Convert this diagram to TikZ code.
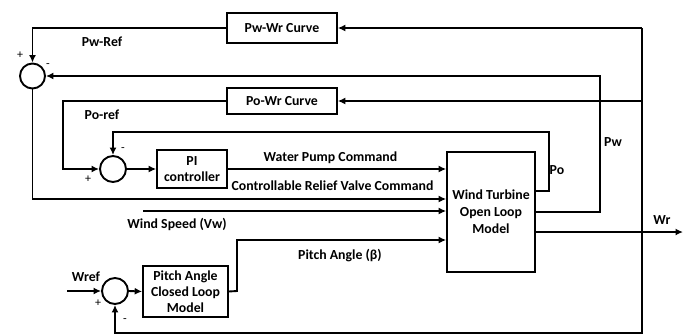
\documentclass[tikz,border=0pt]{standalone}
\usepackage{fontspec}
\setmainfont{Carlito}
\usetikzlibrary{arrows.meta,calc}
\begin{document}
\begin{tikzpicture}[x=1pt,y=-1pt,
  line width=1.9pt,
  font=\bfseries\fontsize{13.8}{16}\selectfont,
  blk/.style={draw,rectangle,inner sep=0pt,align=center,line width=1.7pt},
  sumc/.style={draw,circle,inner sep=0pt,line width=1.9pt},
  arr/.style={-{Latex[length=7.5pt,width=7pt]}},
  lbl/.style={inner sep=0pt,anchor=center},
  sgn/.style={inner sep=0pt,font=\fontsize{12}{12}\selectfont},
  conn/.style={line join=miter}]
\useasboundingbox (0,0) rectangle (691,335);
% blocks
\node[blk,minimum width=110pt,minimum height=30pt] (pwwr) at (282,28) {Pw-Wr Curve};
\node[blk,minimum width=110pt,minimum height=26pt] (powr) at (282,101) {Po-Wr Curve};
\node[blk,minimum width=70pt,minimum height=38pt,font=\bfseries\fontsize{13.8}{15.5}\selectfont] (pi) at (192,169) {PI\\controller};
\node[blk,minimum width=88pt,minimum height=120pt,font=\bfseries\fontsize{13.8}{17}\selectfont] (wt) at (491,212) {Wind Turbine\\Open Loop\\Model};
\node[blk,minimum width=85pt,minimum height=51pt,font=\bfseries\fontsize{13.8}{16}\selectfont] (pitch) at (185.5,291.5) {Pitch Angle\\Closed Loop\\Model};
% summing junctions
\node[sumc,minimum size=25pt] (s1) at (32.5,76) {};
\node[sumc,minimum size=26pt] (s2) at (113,169) {};
\node[sumc,minimum size=26pt] (s3) at (115,291) {};
% helper coordinates
\coordinate (wrend) at (683,232);
\coordinate (wrj) at (642,232);
\coordinate (wrtop) at (642,28);
\coordinate (wrmid) at (642,101);
\coordinate (wrbot) at (642,333);
\coordinate (pwR) at (600,212);
\coordinate (pwT) at (600,76);
\coordinate (poR) at (549,191);
\coordinate (poT) at (549,132);
\coordinate (poL) at (113,132);
\coordinate (porefL) at (63,101);
\coordinate (porefB) at (63,169);
\coordinate (s1B) at (32.5,199);
\coordinate (vwS) at (143,211);
\coordinate (pitchA) at (237,291);
\coordinate (pitchB) at (237,240);
\coordinate (wrefS) at (67,291);
\coordinate (dot) at (600,101);
% Wr output and feedbacks
\draw[arr,line width=2.4pt] (wt.east |- wrend) -- (wrend);
\draw[conn] (wrj) -- (wrtop);
\draw[arr,conn] (wrtop) -- (pwwr.east);
\draw[arr] (wrmid) -- (powr.east);
\draw[arr,conn] (wrj) -- (wrbot) -| (s3.south);
\fill (dot) circle (1.7pt);
% Pw-Ref path
\draw[arr,conn] (pwwr.west) -| (s1.north);
% Pw feedback
\draw[arr,conn] (wt.east |- pwR) -- (pwR) -- (pwT) -- (s1.east);
% Po-ref path
\draw[arr,conn] (powr.west) -- (porefL) -- (porefB) -- (s2.west);
% Po feedback
\draw[arr,conn] (wt.east |- poR) -- (poR) -- (poT) -- (poL) -- (s2.north);
% PI chain
\draw[arr] (s2.east) -- (pi.west);
\draw[arr] (pi.east) -- (wt.west |- pi.east);
% relief valve command
\draw[arr,conn] (s1.south) -- (s1B) -- (wt.west |- s1B);
% wind speed
\draw[arr] (vwS) -- (wt.west |- vwS);
% pitch
\draw[arr] (wrefS) -- (s3.west);
\draw[arr] (s3.east) -- (pitch.west);
\draw[arr,conn] (pitch.east) -- (pitchA) -- (pitchB) -- (wt.west |- pitchB);
% labels
\node[lbl] (lpwref) at (102,42) {Pw-Ref};
\node[lbl] (lporef) at (102,115) {Po-ref};
\node[lbl] (lwpc) at (330.5,158) {Water Pump Command};
\node[lbl] (lcrvc) at (332.5,186) {Controllable Relief Valve Command};
\node[lbl] (lvw) at (177,224) {Wind Speed (Vw)};
\node[lbl] (lbeta) at (340,256) {Pitch Angle (β)};
\node[lbl] (lpw) at (613,142) {Pw};
\node[lbl] (lpo) at (557,170) {Po};
\node[lbl] (lwr) at (662,220) {Wr};
\node[lbl] (lwref) at (86,277) {Wref};
% signs
\node[sgn] (p1) at (20,55) {+};
\node[sgn] (m1) at (48,66) {-};
\node[sgn] (p2) at (88,179) {+};
\node[sgn] (m2) at (123,150) {-};
\node[sgn] (p3) at (98,303) {+};
\node[sgn] (m3) at (125,321) {-};
\end{tikzpicture}
\end{document}
